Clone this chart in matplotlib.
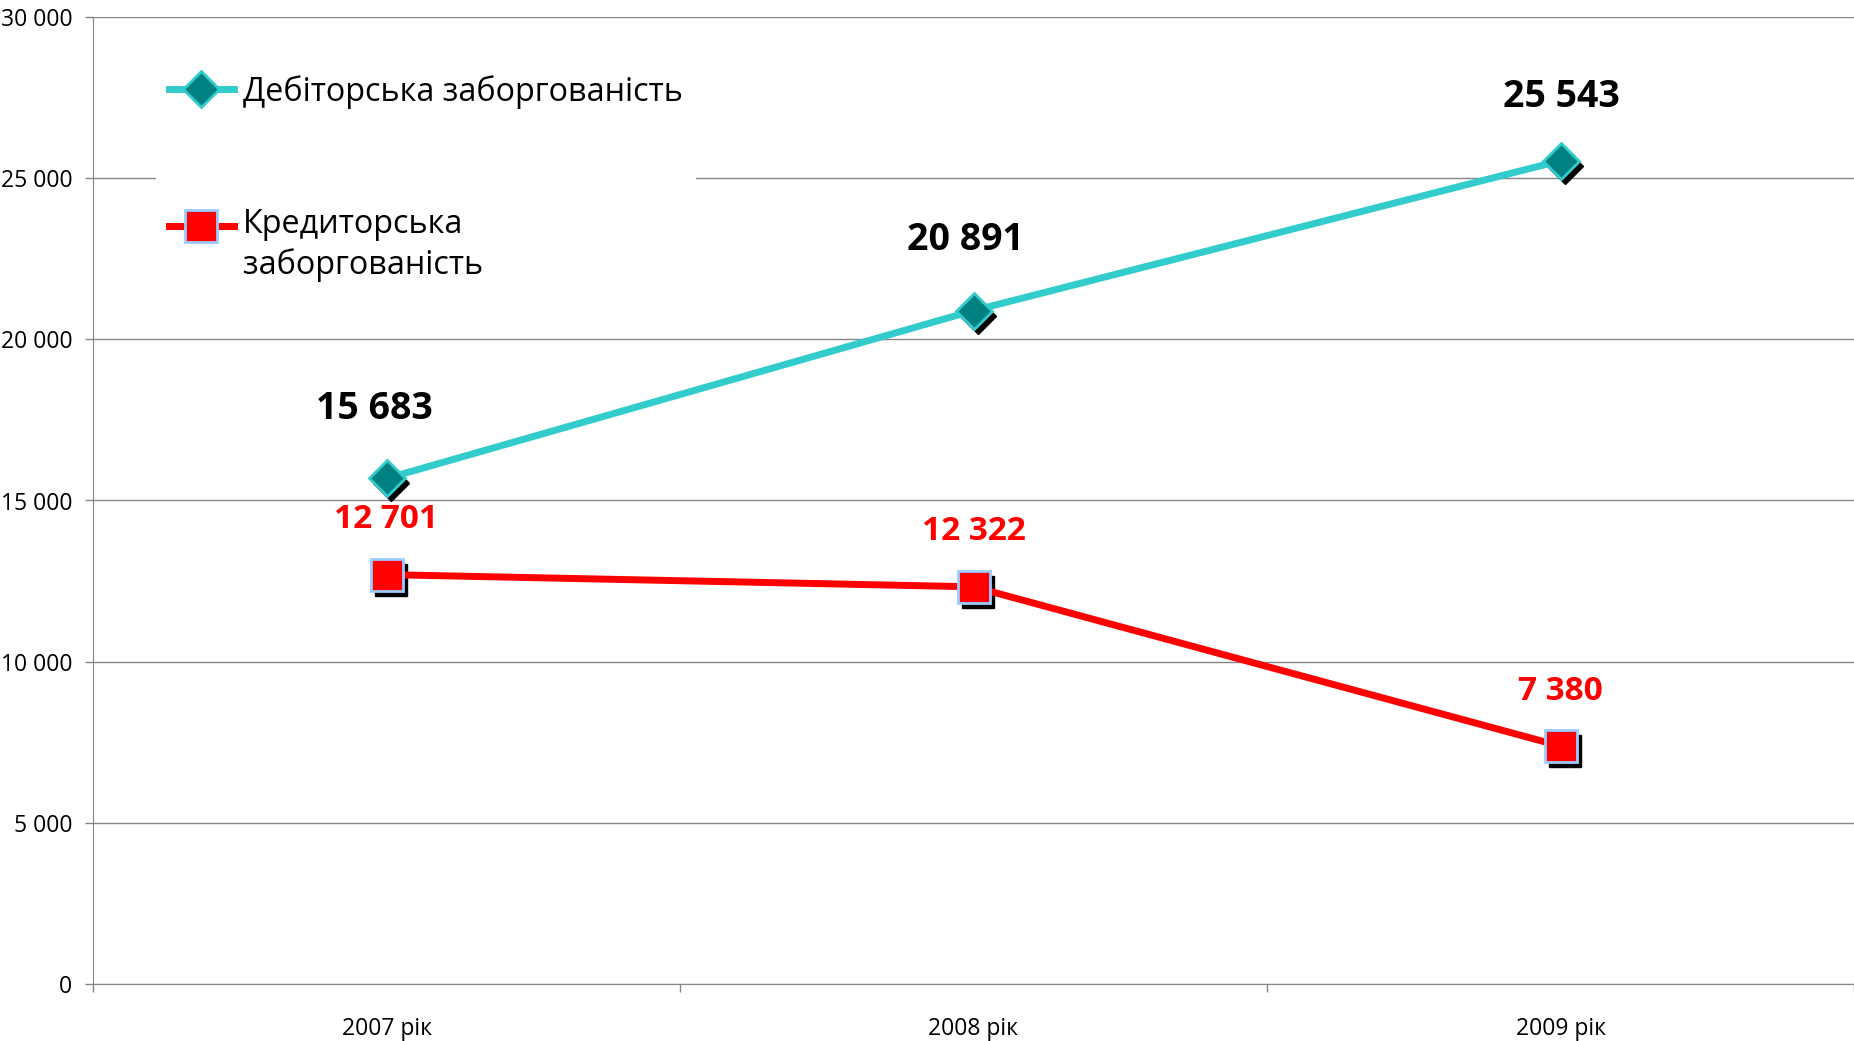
import matplotlib
matplotlib.use("Agg")
import matplotlib.pyplot as plt
from matplotlib.ticker import FuncFormatter
from matplotlib.transforms import ScaledTranslation

# chart data
years = ["2007 рік", "2008 рік", "2009 рік"]
debit = [15683, 20891, 25543]
credit = [12701, 12322, 7380]
debit_label = "Дебіторська заборгованість"
credit_label = "Кредиторська\nзаборгованість"

# label nudges in points (style only)
debit_dx = [-9, -6, 1]
debit_dy = [50, 51, 46]

plt.rcParams['font.family'] = ['Open Sans', 'DejaVu Sans']


def fmt(v):
    return f"{v:,.0f}".replace(",", " ")


fig = plt.figure(figsize=(18.54, 10.41), dpi=100)
ax = fig.add_axes([93 / 1854, 1 - 984 / 1041, 1 - 93 / 1854, (984 - 17) / 1041])

x = list(range(len(years)))
grey = "#868686"

# marker shadows
shadow = ax.transData + ScaledTranslation(4 / 100, -5 / 100, fig.dpi_scale_trans)
ax.plot(x, debit, ls="none", marker="D", ms=18, color="black", transform=shadow, zorder=1.8)
ax.plot(x, credit, ls="none", marker="s", ms=23, color="black", transform=shadow, zorder=1.8)

ax.plot(x, debit, color="#33CCCC", lw=5, marker="D", ms=18, mfc="#008080",
        mec="#33CCCC", mew=2, label=debit_label, zorder=2)
ax.plot(x, credit, color="#FF0000", lw=5, marker="s", ms=23, mfc="#FF0000",
        mec="#99CCFF", mew=2, label="\n" + credit_label, zorder=2.1)

for i, v in enumerate(debit):
    ax.annotate(fmt(v), (i, v), xytext=(debit_dx[i], debit_dy[i]), textcoords="offset points",
                ha="center", va="center", fontsize=27, fontweight="bold", color="black")
for i, v in enumerate(credit):
    ax.annotate(fmt(v), (i, v), xytext=(0, 39.5), textcoords="offset points",
                ha="center", va="center", fontsize=24, fontweight="bold", color="#FF0000")

ax.set_xlim(-0.5, 2.5)
ax.set_ylim(0, 30000)
ax.set_yticks(range(0, 30001, 5000))
ax.yaxis.set_major_formatter(FuncFormatter(lambda v, _: fmt(v)))
ax.set_xticks(x)
ax.set_xticklabels(years)
ax.set_xticks([-0.5, 0.5, 1.5, 2.5], minor=True)

ax.tick_params(axis="y", length=6, width=1, color=grey, labelsize=16.5, pad=9)
ax.tick_params(axis="x", which="major", length=0, labelsize=16.5, pad=24)
ax.tick_params(axis="x", which="minor", length=6, width=1, color=grey)

ax.set_axisbelow(True)
ax.grid(axis="y", color=grey, lw=1)
for side in ["top", "right"]:
    ax.spines[side].set_visible(False)
for side in ["left", "bottom"]:
    ax.spines[side].set_color(grey)

leg = ax.legend(loc="upper left", bbox_to_anchor=(156 / 1854, 1 - 62 / 1041),
                bbox_transform=fig.transFigure, fontsize=23.3, frameon=True,
                framealpha=1, facecolor="white", edgecolor="none", fancybox=False,
                handlelength=2.0, handletextpad=0.3, labelspacing=1.8, borderaxespad=0)
leg.get_texts()[1].set_linespacing(1.3)

fig.savefig("out.png", dpi=100)
